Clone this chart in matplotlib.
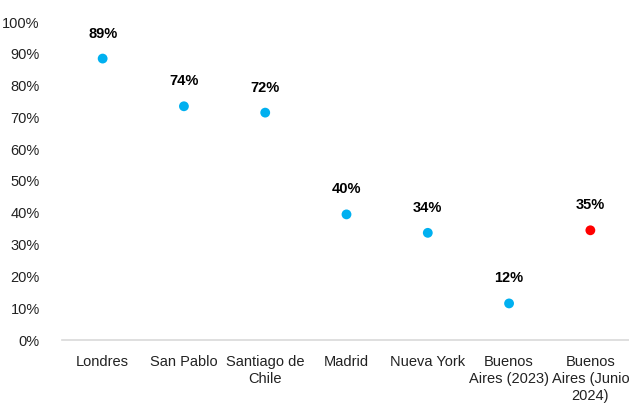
import matplotlib.pyplot as plt
from matplotlib.ticker import PercentFormatter

ciudades = ['Londres', 'San Pablo', 'Santiago de\nChile', 'Madrid', 'Nueva York',
            'Buenos\nAires (2023)', 'Buenos\nAires (Junio\n2024)']
valores = [0.885, 0.735, 0.715, 0.395, 0.337, 0.115, 0.345]
etiquetas = ['89%', '74%', '72%', '40%', '34%', '12%', '35%']
colores = ['#00B0F0'] * 6 + ['#FF0000']

plt.rcParams['font.family'] = ['Liberation Sans', 'DejaVu Sans']

fig = plt.figure(figsize=(6.29, 4.08), dpi=100)
ax = fig.add_axes([62/629, 68/408, 569/629, 318/408])

x = range(len(ciudades))
ax.scatter(x, valores, c=colores, s=50, zorder=3, edgecolors='none')
for i, (v, t) in enumerate(zip(valores, etiquetas)):
    ax.annotate(t, (i, v), xytext=(0, 13), textcoords='offset points',
                ha='center', va='bottom', fontsize=10.5, fontweight='bold')

ax.set_xlim(-0.5, len(ciudades) - 0.5)
ax.set_ylim(0, 1)
ax.set_yticks([i / 10 for i in range(11)])
ax.yaxis.set_major_formatter(PercentFormatter(1.0, decimals=0))
ax.set_xticks(list(x))
ax.set_xticklabels(ciudades, fontsize=10.5, color='#222222', linespacing=1.25)
ax.tick_params(axis='y', labelsize=10.5, colors='#222222', length=0, pad=16)
ax.tick_params(axis='x', length=0, pad=11)

for s in ['top', 'right', 'left']:
    ax.spines[s].set_visible(False)
ax.spines['bottom'].set_color('#D9D9D9')
ax.spines['bottom'].set_linewidth(1.2)

fig.savefig('out.png', dpi=100)
